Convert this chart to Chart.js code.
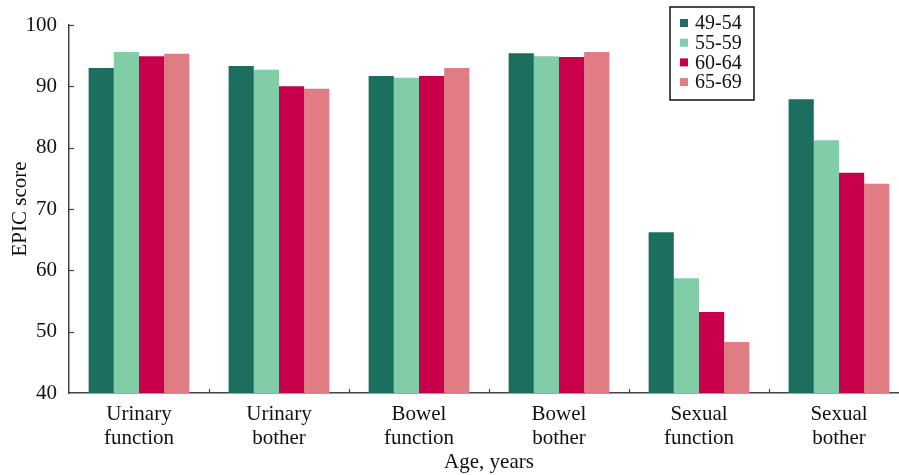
<!DOCTYPE html>
<html lang="en">
<head>
    <meta charset="UTF-8">
    <script src="https://cdn.jsdelivr.net/npm/chart.js"></script>
    <title>EPIC score by age</title>
    <style>
        html, body {
            margin: 0;
            padding: 0;
            background: #fff;
            overflow: hidden;
        }
        .wrap {
            width: 915px;
            height: 475px;
        }
    </style>
</head>
<body>
    <div class="wrap">
        <canvas id="epicChart" width="915" height="475"></canvas>
    </div>
    <script>
        // domains on the x axis
        const categories = [
            ['Urinary', 'function'],
            ['Urinary', 'bother'],
            ['Bowel', 'function'],
            ['Bowel', 'bother'],
            ['Sexual', 'function'],
            ['Sexual', 'bother']
        ];

        const ageGroups = ['49-54', '55-59', '60-64', '65-69'];
        const groupColors = ['#1c6f5f', '#80cda8', '#c8004b', '#e07c84'];

        // EPIC scores, one array per age group
        const age49to54 = [93.0, 93.3, 91.7, 95.4, 66.2, 87.9];
        const age55to59 = [95.6, 92.7, 91.4, 94.9, 58.7, 81.2];
        const age60to64 = [94.9, 90.0, 91.7, 94.8, 53.2, 75.9];
        const age65to69 = [95.3, 89.6, 93.0, 95.6, 48.3, 74.1];

        const yMin = 40;
        const yMax = 100;
        const yStep = 10;

        const FONT = '"Liberation Serif", "DejaVu Serif", serif';
        const AXIS = '#444';

        Chart.defaults.font.family = FONT;
        Chart.defaults.font.size = 21;
        Chart.defaults.color = '#111';

        const seriesValues = [age49to54, age55to59, age60to64, age65to69];

        const data = {
            labels: categories,
            datasets: ageGroups.map((label, i) => ({
                label: label,
                data: seriesValues[i],
                backgroundColor: groupColors[i],
                borderWidth: 0,
                categoryPercentage: 0.72,
                barPercentage: 1.0
            }))
        };

        // inward tick marks on both axes + the boxed legend
        const extras = {
            id: 'extras',
            afterDraw(chart) {
                const c = chart.ctx;
                const xs = chart.scales.x;
                const ys = chart.scales.y;
                const area = chart.chartArea;
                c.save();
                c.strokeStyle = AXIS;
                c.lineWidth = 1.2;
                for (let i = 0; i < categories.length - 1; i++) {
                    const x = Math.round((xs.getPixelForTick(i) + xs.getPixelForTick(i + 1)) / 2) + 0.5;
                    c.beginPath();
                    c.moveTo(x, area.bottom);
                    c.lineTo(x, area.bottom - 4);
                    c.stroke();
                }
                for (let v = yMin + yStep; v <= yMax; v += yStep) {
                    const y = Math.round(ys.getPixelForValue(v)) + 0.5;
                    c.beginPath();
                    c.moveTo(area.left, y);
                    c.lineTo(area.left + 5, y);
                    c.stroke();
                }

                // legend
                const lx = 670, ly = 7, lw = 84, lh = 93;
                c.strokeStyle = '#111';
                c.lineWidth = 1.5;
                c.strokeRect(lx, ly, lw, lh);
                c.font = '20px ' + FONT;
                c.textBaseline = 'middle';
                c.textAlign = 'left';
                ageGroups.forEach((label, i) => {
                    const cy = 23 + i * 19.7;
                    c.fillStyle = groupColors[i];
                    c.fillRect(680, cy - 4, 8, 8);
                    c.fillStyle = '#111';
                    c.fillText(label, 695, cy + 1);
                });
                c.restore();
            }
        };

        const config = {
            type: 'bar',
            data: data,
            options: {
                responsive: false,
                animation: false,
                devicePixelRatio: 1,
                layout: {
                    padding: { top: 25, right: 6, left: 0, bottom: 0 }
                },
                plugins: {
                    legend: { display: false },
                    tooltip: { enabled: false }
                },
                scales: {
                    x: {
                        grid: { display: false },
                        border: { display: true, color: AXIS, width: 1.5 },
                        ticks: {
                            padding: 1,
                            maxRotation: 0,
                            autoSkip: false,
                            color: '#111',
                            font: { lineHeight: 1.15 }
                        },
                        title: {
                            display: true,
                            text: 'Age, years',
                            color: '#111',
                            padding: { top: 0, bottom: 0 }
                        },
                        afterFit(scale) { scale.height = 82; }
                    },
                    y: {
                        min: yMin,
                        max: yMax,
                        ticks: {
                            stepSize: yStep,
                            padding: 4,
                            color: '#111'
                        },
                        grid: { display: false },
                        border: { display: true, color: AXIS, width: 1.5 },
                        title: {
                            display: true,
                            text: 'EPIC score',
                            color: '#111',
                            padding: { top: 8, bottom: 0 }
                        },
                        afterFit(scale) { scale.width = 69; }
                    }
                }
            },
            plugins: [extras]
        };

        const ctx = document.getElementById('epicChart').getContext('2d');
        const epicChart = new Chart(ctx, config);
    </script>
</body>
</html>
